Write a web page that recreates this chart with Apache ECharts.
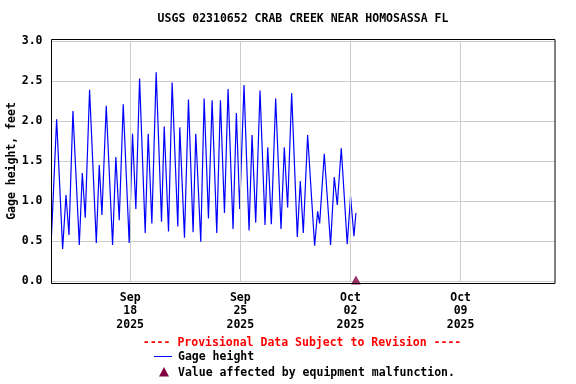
<!DOCTYPE html>
<html><head><meta charset="utf-8">
<script src="https://cdn.jsdelivr.net/npm/echarts@6/dist/echarts.min.js"></script>
<style>html,body{margin:0;padding:0;background:#fff}#c{width:576px;height:384px}</style>
</head><body><div id="c"></div>
<script>
const chartTitle = 'USGS 02310652 CRAB CREEK NEAR HOMOSASSA FL';
const yAxisName = 'Gage height, feet';
const provisionalText = '---- Provisional Data Subject to Revision ----';
const seriesName = 'Gage height';
const malfunctionName = 'Value affected by equipment malfunction.';
const xStart = '2025-09-13 00:00';
const xEnd = '2025-10-15 00:00';
const xTickDates = ['2025-09-18 00:00', '2025-09-25 00:00', '2025-10-02 00:00', '2025-10-09 00:00'];
const monthNames = ['Jan','Feb','Mar','Apr','May','Jun','Jul','Aug','Sep','Oct','Nov','Dec'];

const times = [
 '2025-09-13 00:00','2025-09-13 07:50','2025-09-13 17:00','2025-09-13 22:05',
 '2025-09-14 02:40','2025-09-14 08:40','2025-09-14 18:25','2025-09-14 23:00',
 '2025-09-15 03:30','2025-09-15 10:05','2025-09-15 20:20',
 '2025-09-16 00:50','2025-09-16 04:55','2025-09-16 11:30','2025-09-16 21:10',
 '2025-09-17 02:10','2025-09-17 07:20','2025-09-17 13:25','2025-09-17 22:30',
 '2025-09-18 03:35','2025-09-18 08:40','2025-09-18 14:20','2025-09-18 22:55',
 '2025-09-19 03:30','2025-09-19 09:05','2025-09-19 15:40','2025-09-19 23:50',
 '2025-09-20 03:55','2025-09-20 10:30','2025-09-20 16:00',
 '2025-09-21 00:40','2025-09-21 03:40','2025-09-21 10:50','2025-09-21 16:55',
 '2025-09-22 00:00','2025-09-22 04:05','2025-09-22 11:40','2025-09-22 16:50','2025-09-22 23:25',
 '2025-09-23 05:00','2025-09-23 12:05','2025-09-23 17:40','2025-09-23 23:50',
 '2025-09-24 05:20','2025-09-24 12:55','2025-09-24 18:00','2025-09-24 23:05',
 '2025-09-25 05:40','2025-09-25 13:20','2025-09-25 17:55','2025-09-25 23:30',
 '2025-09-26 06:05','2025-09-26 13:40','2025-09-26 17:50','2025-09-26 23:20',
 '2025-09-27 05:55','2025-09-27 14:05','2025-09-27 19:05',
 '2025-09-28 00:10','2025-09-28 06:20','2025-09-28 14:55','2025-09-28 19:30',
 '2025-09-29 00:05','2025-09-29 06:40','2025-09-29 17:20','2025-09-29 21:55',
 '2025-09-30 01:00','2025-09-30 08:05','2025-09-30 17:40','2025-09-30 23:20',
 '2025-10-01 03:55','2025-10-01 10:00','2025-10-01 19:05',
 '2025-10-02 00:10','2025-10-02 05:20','2025-10-02 08:20'
];
const gageHeight = [
 0.57,2.02,0.40,1.075,
 0.575,2.125,0.45,1.35,
 0.79,2.39,0.475,
 1.45,0.825,2.19,0.45,
 1.55,0.76,2.21,0.475,
 1.84,0.90,2.53,0.60,
 1.84,0.72,2.61,0.74,
 1.93,0.62,2.48,
 0.68,1.92,0.54,2.27,
 0.61,1.84,0.49,2.28,0.78,
 2.26,0.60,2.26,0.85,
 2.40,0.65,2.10,0.90,
 2.45,0.63,1.825,0.73,
 2.38,0.70,1.67,0.71,
 2.28,0.65,1.67,
 0.92,2.35,0.55,1.25,
 0.60,1.825,0.44,0.87,
 0.72,1.59,0.45,1.30,
 0.95,1.66,0.46,
 1.06,0.56,0.85
];
const malfunctionTimes = ['2025-10-02 08:20'];
const malfunctionValues = [0];

const DAY = 86400000;
function ts(s){
  const [d, t] = s.split(' ');
  const [Y, M, D] = d.split('-').map(Number);
  const [h, mi] = (t || '00:00').split(':').map(Number);
  return Date.UTC(Y, M - 1, D, h, mi);
}
function pad(n){ return (n < 10 ? '0' : '') + n; }

const FONT = 'DejaVu Sans Mono';
const chart = echarts.init(document.getElementById('c'), null, {renderer: 'canvas'});
chart.setOption({
  animation: false,
  backgroundColor: '#fff',
  grid: {left: 51.5, right: 21, top: 41, bottom: 103, containLabel: false, outerBoundsMode: 'none'},
  xAxis: {
    type: 'value',
    min: ts(xStart), max: ts(xEnd), interval: DAY,
    axisLine: {show: false}, axisTick: {show: false}, splitLine: {show: false},
    axisLabel: {
      customValues: xTickDates.map(ts),
      formatter: function(v){ const d = new Date(v); return monthNames[d.getUTCMonth()] + '\n' + pad(d.getUTCDate()) + '\n' + d.getUTCFullYear(); },
      margin: 10, lineHeight: 13.5, color: '#000', fontFamily: FONT, fontWeight: 'bold', fontSize: 11.5,
      hideOverlap: false
    }
  },
  yAxis: {
    type: 'value', min: 0, max: 3, interval: 0.5,
    axisLine: {show: false}, axisTick: {show: false},
    splitLine: {show: true, lineStyle: {color: '#cccccc', width: 1}},
    axisLabel: {formatter: v => v.toFixed(1), margin: 9, color: '#000', fontFamily: FONT, fontWeight: 'bold', fontSize: 11.5}
  },
  series: [
    {
      type: 'line', data: [], z: 1, silent: true,
      markLine: {
        silent: true, symbol: ['none', 'none'], animation: false,
        label: {show: false},
        lineStyle: {color: '#cccccc', width: 1, type: 'solid'},
        emphasis: {disabled: true},
        data: xTickDates.map(d => ({xAxis: ts(d)}))
      }
    },
    {
      name: seriesName, type: 'line', z: 3,
      data: times.map((t, i) => [ts(t), gageHeight[i]]),
      showSymbol: false, symbol: 'none',
      lineStyle: {color: '#0000ff', width: 1.2},
      itemStyle: {color: '#0000ff'}
    },
    {
      name: malfunctionName, type: 'scatter', z: 10, clip: false,
      data: malfunctionTimes.map((t, i) => [ts(t), malfunctionValues[i]]),
      symbol: 'triangle', symbolSize: [10, 9], symbolOffset: [0, -1],
      itemStyle: {color: '#800040'}
    }
  ],
  graphic: [
    {type: 'rect', z: 100, shape: {x: 51.5, y: 39.5, width: 503.5, height: 244}, style: {fill: 'none', stroke: '#000', lineWidth: 1}},
    {type: 'text', x: 303, y: 19, style: {text: chartTitle, fill: '#000', font: 'bold 11.5px "DejaVu Sans Mono"', textAlign: 'center', textVerticalAlign: 'middle'}},
    {type: 'text', x: 12, y: 161, rotation: Math.PI / 2, style: {text: yAxisName, fill: '#000', font: 'bold 11.5px "DejaVu Sans Mono"', textAlign: 'center', textVerticalAlign: 'middle'}},
    {type: 'text', x: 302, y: 343, style: {text: provisionalText, fill: '#ff0000', font: 'bold 11.5px "DejaVu Sans Mono"', textAlign: 'center', textVerticalAlign: 'middle'}},
    {type: 'line', shape: {x1: 154, y1: 356.5, x2: 172, y2: 356.5}, style: {stroke: '#0000ff', lineWidth: 1}},
    {type: 'text', x: 178, y: 357, style: {text: seriesName, fill: '#000', font: 'bold 11.5px "DejaVu Sans Mono"', textAlign: 'left', textVerticalAlign: 'middle'}},
    {type: 'polygon', shape: {points: [[164, 367], [159, 376.5], [169, 376.5]]}, style: {fill: '#800040'}},
    {type: 'text', x: 178, y: 373, style: {text: malfunctionName, fill: '#000', font: 'bold 11.5px "DejaVu Sans Mono"', textAlign: 'left', textVerticalAlign: 'middle'}}
  ]
});
</script></body></html>
